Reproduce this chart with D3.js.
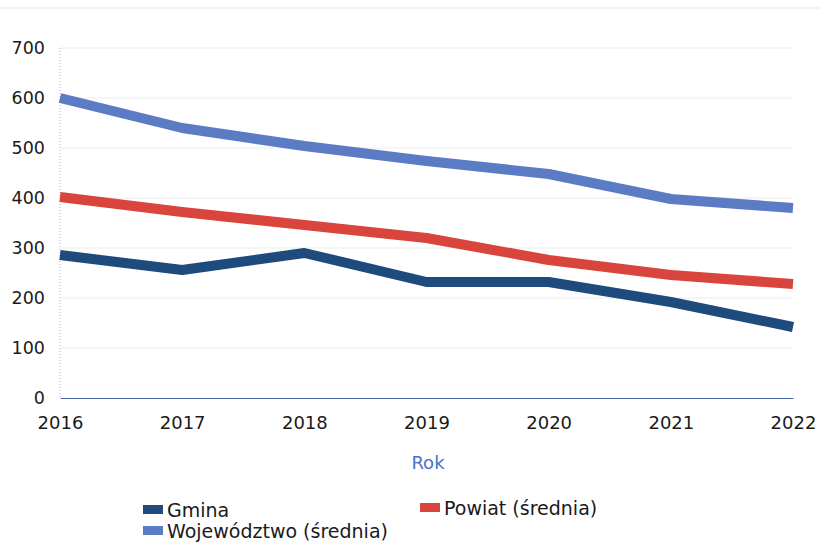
<!DOCTYPE html>
<html>
<head>
<meta charset="utf-8">
<script src="https://cdn.jsdelivr.net/npm/d3@7"></script>
<style>
  body { margin: 0; background: #fff; }
  svg { font-family: "DejaVu Sans", Verdana, sans-serif; }
</style>
</head>
<body>
<svg id="chart"></svg>
<script>
const years = [2016, 2017, 2018, 2019, 2020, 2021, 2022];
const gmina = [286, 256, 290, 232, 232, 192, 142];
const powiat = [402, 372, 346, 320, 276, 246, 228];
const wojewodztwo = [600, 540, 504, 474, 448, 398, 380];
const yTicks = [0, 100, 200, 300, 400, 500, 600, 700];

const seriesNames = ["Gmina", "Powiat (średnia)", "Województwo (średnia)"];
const seriesColors = ["#1e4a7c", "#d9453c", "#5b7cc4"];

const series = [
  {name: seriesNames[0], color: seriesColors[0], values: gmina},
  {name: seriesNames[1], color: seriesColors[1], values: powiat},
  {name: seriesNames[2], color: seriesColors[2], values: wojewodztwo}
];

const W = 820, H = 544;
const svg = d3.select("#chart").attr("width", W).attr("height", H);

const margin = {top: 48, right: 27, bottom: 146, left: 60},
  width = W - margin.left - margin.right,
  height = H - margin.top - margin.bottom;

const x = d3.scalePoint().domain(years).range([0, width]);
const y = d3.scaleLinear().domain([0, 700]).range([height, 0]);

// faint scan border at the top
svg.append("line")
  .attr("x1", 0).attr("x2", W)
  .attr("y1", 8).attr("y2", 8)
  .attr("stroke", "#e6e6e6").attr("stroke-width", 1);

const g = svg.append("g")
  .attr("transform", `translate(${margin.left},${margin.top})`);

// gridlines
g.append("g")
  .selectAll("line")
  .data(yTicks.filter(d => d > 0))
  .enter().append("line")
  .attr("x1", 0).attr("x2", width)
  .attr("y1", d => y(d)).attr("y2", d => y(d))
  .attr("stroke", "#ececec")
  .attr("stroke-width", 1);

// left axis line (dotted)
g.append("line")
  .attr("x1", 0).attr("x2", 0)
  .attr("y1", 0).attr("y2", height)
  .attr("stroke", "#9fb3d8")
  .attr("stroke-dasharray", "1,2");

// y axis labels
const yAxis = g.append("g")
  .call(d3.axisLeft(y).tickValues(yTicks).tickSize(0).tickPadding(15));
yAxis.select(".domain").remove();
yAxis.selectAll("text")
  .attr("font-size", 17.5)
  .attr("font-family", "DejaVu Sans, sans-serif")
  .attr("fill", "#1a1a1a");

// x axis
const xAxis = g.append("g")
  .attr("transform", `translate(0,${height})`)
  .call(d3.axisBottom(x).tickSize(0).tickPadding(18));
xAxis.select(".domain").attr("stroke", "#4a66a8").attr("stroke-width", 1);
xAxis.selectAll("text")
  .attr("font-size", 18)
  .attr("font-family", "DejaVu Sans, sans-serif")
  .attr("fill", "#1a1a1a");

// axis title
svg.append("text")
  .attr("x", 428).attr("y", 469)
  .attr("text-anchor", "middle")
  .attr("font-size", 18)
  .attr("fill", "#4a72c4")
  .text("Rok");

// lines
const line = d3.line()
  .x((d, i) => x(years[i]))
  .y(d => y(d));

g.selectAll(".series")
  .data(series)
  .enter().append("path")
  .attr("class", "series")
  .attr("fill", "none")
  .attr("stroke", d => d.color)
  .attr("stroke-width", 10)
  .attr("stroke-linejoin", "round")
  .attr("d", d => line(d.values));

// legend
const legendPos = [
  {x: 143, y: 510},
  {x: 420, y: 508},
  {x: 143, y: 531}
];

const legend = svg.selectAll(".legend")
  .data(series)
  .enter().append("g")
  .attr("class", "legend")
  .attr("transform", (d, i) => `translate(${legendPos[i].x},${legendPos[i].y})`);

legend.append("rect")
  .attr("x", 0).attr("y", -5)
  .attr("width", 20).attr("height", 9)
  .attr("fill", d => d.color);

legend.append("text")
  .attr("x", 24).attr("y", 0)
  .attr("dy", "0.35em")
  .attr("font-size", 19)
  .attr("fill", "#1a1a1a")
  .text(d => d.name);
</script>
</body>
</html>
